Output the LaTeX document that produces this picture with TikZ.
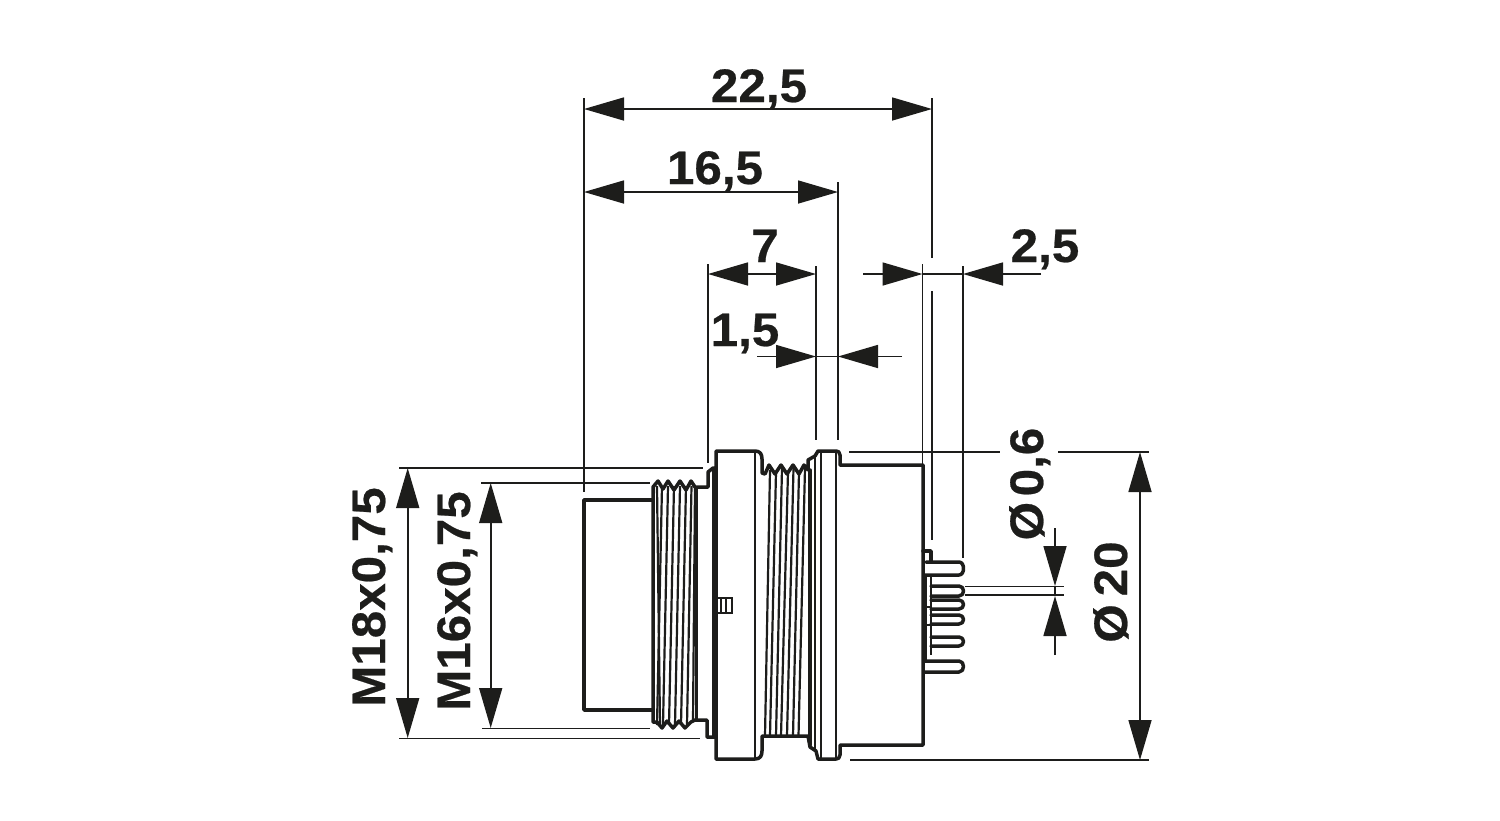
\documentclass[tikz,border=0pt]{standalone}
\usepackage{fontspec}
\usetikzlibrary{arrows.meta}
\newfontfamily\dimfont[FakeStretch=1.05,FakeBold=0.5]{Liberation Sans Bold}
\definecolor{ink}{HTML}{1D1D1B}
\tikzset{
  outline/.style={draw=ink,line width=1.75pt,line join=round,line cap=round},
  inner/.style={draw=ink,line width=1.1pt},
  fine/.style={draw=ink,line width=.8pt},
  dim/.style={draw=ink,line width=.8pt},
  tip/.style={-{Triangle[length=20pt,width=11.5pt,fill=ink]}},
  tips/.style={{Triangle[length=20pt,width=11.5pt,fill=ink]}-{Triangle[length=20pt,width=11.5pt,fill=ink]}},
  lab/.style={text=ink,inner sep=0pt,anchor=base,font=\dimfont\fontsize{23.5}{24}\selectfont},
  vlab/.style={lab,rotate=90}
}
\begin{document}
\begin{tikzpicture}[x=.5pt,y=-.5pt]
\useasboundingbox (0,0) rectangle (1500,820);
\fill[white] (0,0) rectangle (1500,820);
% body outline
\draw[outline] (653,500) -- (584,500) -- (584,710) -- (653,710);
\draw[outline] (653,722) -- (653,500) -- (653,487) -- (658,481) -- (663,489) -- (668,481) -- (674,490) -- (680,481) -- (686,490) -- (691,481) -- (695,487) -- (708,487) -- (708,472) -- (713,468) -- (716,468) -- (716,451)
  -- (755,451) .. controls (760,451) and (762,454) .. (762,459) -- (762,473)
  -- (765,474) -- (769,465) -- (775,474) -- (781,465) -- (787,474) -- (793,465) -- (799,474) -- (804,465) -- (808,470) -- (808,460) -- (815,456) -- (818,451)
  -- (836,451) .. controls (838,451) and (840,452) .. (840,455) -- (840,465) -- (923,465) -- (923,745) -- (840,745) -- (840,755)
  .. controls (840,758) and (838,759) .. (836,759) -- (818,759) -- (816,751) -- (810,747) -- (808,736) -- (762,736) -- (762,751)
  .. controls (762,756) and (760,759) .. (755,759) -- (716,759) -- (716,737) -- (707,737) -- (707,720) -- (695,720) -- (691,722) -- (685,728) -- (679,721) -- (673,728) -- (667,721) -- (662,728) -- (657,722) -- (653,722);
% flange and inner verticals
\draw[outline] (716,468) -- (716,737);
\draw[inner] (713,468) -- (713,737);
\draw[inner] (755,451) -- (755,759);
\draw[inner] (836,451) -- (836,759);
\draw[inner] (821,451) -- (821,759);
\draw[inner] (815,457) -- (815,751);
\draw[outline] (810,470) -- (810,745);
% left thread lines
\draw[inner] (657,486) -- (660,725);
\draw[inner] (662,486) -- (657,725);
\draw[inner] (668,486) -- (663,725);
\draw[inner] (674,486) -- (669,725);
\draw[inner] (680,486) -- (675,725);
\draw[inner] (686,486) -- (681,725);
\draw[inner] (691.5,486) -- (687,725);
\draw[inner] (695,487) -- (693,722);
\draw[inner] (696.5,487) -- (696.5,720);
% right thread lines
\draw[inner] (770,470) -- (765,736);
\draw[inner] (776,472) -- (770,736);
\draw[inner] (782,468) -- (776,736);
\draw[inner] (788,472) -- (781,736);
\draw[inner] (793.5,468) -- (787,736);
\draw[inner] (799,472) -- (793,736);
\draw[inner] (805,468) -- (798.5,736);
% key
\draw[fine] (716,598) -- (732,598) -- (732,613) -- (716,613);
\draw[fine] (721,598) -- (721,613);
\draw[fine] (726,598) -- (726,613);
% pins
\draw[outline] (923,551) -- (931,551) -- (931,562);
\draw[inner] (931,575) -- (931,655);
\draw[inner] (926,575) -- (926,660);
\draw[outline] (926,562) -- (959,562) .. controls (965,562) and (965,575) .. (959,575) -- (924,575);
\draw[outline] (931,586) -- (959,586) .. controls (965,586) and (965,596) .. (959,596) -- (931,596);
\draw[outline] (931,600) -- (959,600) .. controls (965,600) and (965,609) .. (959,609) -- (931,609);
\draw[outline] (931,615) -- (959,615) .. controls (965,615) and (965,624) .. (959,624) -- (931,624);
\draw[outline] (931,637) -- (959,637) .. controls (965,637) and (965,646) .. (959,646) -- (931,646);
\draw[outline] (924,661) -- (959,661) .. controls (965,661) and (965,672) .. (959,672) -- (924,672);
\draw[fine] (926,607) -- (931,607);
\draw[fine] (926,625) -- (931,625);
% extension lines
\draw[dim] (584,98) -- (584,492);
\draw[dim] (932,98) -- (932,258);
\draw[dim] (932,291) -- (932,540);
\draw[dim] (838,182) -- (838,440);
\draw[dim] (708,264) -- (708,463);
\draw[dim] (816,266) -- (816,440);
\draw[dim] (922.5,264) -- (922.5,465);
\draw[dim] (963,266) -- (963,558);
\draw[dim] (399,468) -- (703,468);
\draw[dim] (399,738.5) -- (700,738.5);
\draw[dim] (481,483) -- (650,483);
\draw[dim] (482,728.5) -- (650,728.5);
\draw[dim] (849,452) -- (1000,452);
\draw[dim] (1058,452) -- (1149,452);
\draw[dim] (850,760) -- (1149,760);
\draw[dim] (965,586.5) -- (1064,586.5);
\draw[dim] (965,595) -- (1064,595);
% dimension lines
\draw[dim,tips] (584,109) -- (932,109);
\draw[dim,tips] (584,192) -- (838,192);
\draw[dim,tips] (708,274) -- (816,274);
\draw[dim,tip] (863,274) -- (922.5,274);
\draw[dim] (922.5,274) -- (963,274);
\draw[dim,tip] (1041,274) -- (963,274);
\draw[dim,tip] (757,356.5) -- (816,356.5);
\draw[dim] (816,356.5) -- (838,356.5);
\draw[dim,tip] (902,356.5) -- (838,356.5);
\draw[dim,tips] (407.7,468) -- (407.7,738);
\draw[dim,tips] (490.7,483) -- (490.7,728);
\draw[dim,tips] (1140,452) -- (1140,760);
\draw[dim,tip] (1055,528) -- (1055,586);
\draw[dim] (1055,586) -- (1055,596);
\draw[dim,tip] (1055,655) -- (1055,596);
% labels
\node[lab] (l225) at (759,102) {22,5};
\node[lab] (l165) at (715,184) {16,5};
\node[lab] (l7) at (765,262) {7};
\node[lab] (l15) at (745,346) {1,5};
\node[lab] (l25) at (1045,262) {2,5};
\node[vlab] (lm18) at (385,597) {M18x0,75};
\node[vlab] (lm16) at (470,601) {M16x0,75};
\node[vlab] (ld06) at (1043,484) {Ø\hspace{.12em}0,6};
\node[vlab] (ld20) at (1127,592) {Ø\hspace{.17em}20};
\end{tikzpicture}
\end{document}
